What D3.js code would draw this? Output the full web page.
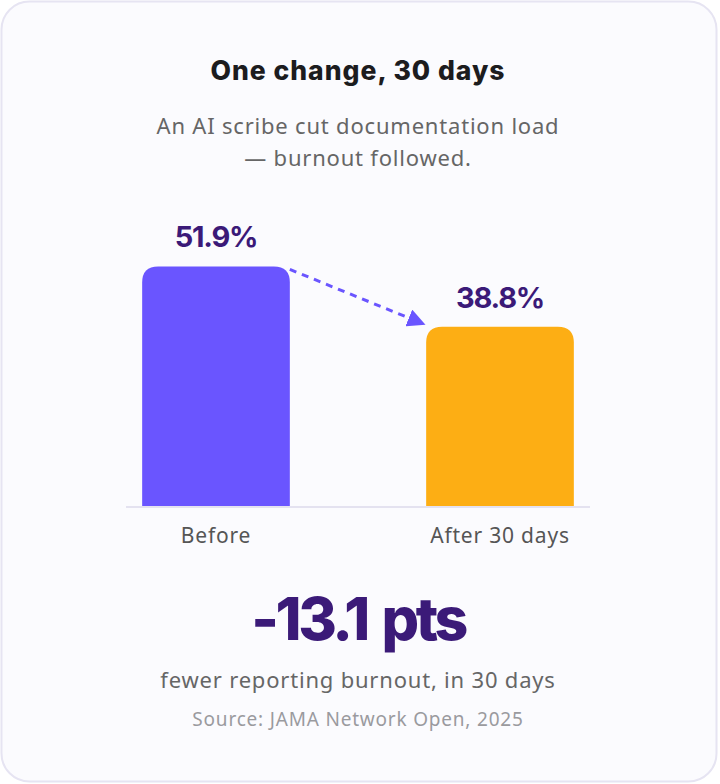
<!DOCTYPE html>
<html><head><meta charset="utf-8">
<script src="https://cdn.jsdelivr.net/npm/d3@7"></script>
<style>html,body{margin:0;padding:0;background:#ffffff;}</style>
</head><body>
<script>
const categories = ["Before", "After 30 days"];
const values = [51.9, 38.8];
const valueLabels = ["51.9%", "38.8%"];
const barColors = ["#6a55ff", "#fdae14"];
const title = "One change, 30 days";
const subtitleLines = ["An AI scribe cut documentation load", "— burnout followed."];
const bigNumber = "-13.1 pts";
const bigCaption = "fewer reporting burnout, in 30 days";
const source = "Source: JAMA Network Open, 2025";

const W = 720, H = 784;
const svg = d3.select("body").append("svg").attr("width", W).attr("height", H);

svg.append("rect").attr("x", 1.5).attr("y", 1.5).attr("width", 715).attr("height", 780)
  .attr("rx", 28).attr("fill", "#fbfbfe").attr("stroke", "#e6e4f2").attr("stroke-width", 2);

const cx = 358;
svg.append("text").attr("x", cx).attr("y", 80).attr("text-anchor", "middle")
  .attr("font-family", "Inter").attr("font-weight", 800).attr("font-size", 26.5)
  .attr("letter-spacing", 1.0).attr("fill", "#1c1c1e").text(title);

svg.selectAll("text.sub").data(subtitleLines).join("text").attr("class", "sub")
  .attr("x", cx).attr("y", (d, i) => 134 + i * 32).attr("text-anchor", "middle")
  .attr("font-family", "Noto Sans").attr("font-size", 22).attr("letter-spacing", 0.8)
  .attr("fill", "#666666").text(d => d);

const x = d3.scaleBand().domain(categories).range([74, 642]).paddingInner(0.48).paddingOuter(0.24);
const y = d3.scaleLinear().domain([0, 60]).range([506, 229]);

const r = 16;
function barPath(x0, w, yt, yb) {
  return `M${x0},${yb}V${yt + r}Q${x0},${yt} ${x0 + r},${yt}H${x0 + w - r}Q${x0 + w},${yt} ${x0 + w},${yt + r}V${yb}Z`;
}
svg.selectAll("path.bar").data(categories).join("path").attr("class", "bar")
  .attr("d", (d, i) => barPath(x(d), x.bandwidth(), y(values[i]), y(0)))
  .attr("fill", (d, i) => barColors[i]);

svg.append("line").attr("x1", 126).attr("x2", 590).attr("y1", y(0) + 1).attr("y2", y(0) + 1)
  .attr("stroke", "#e4e2f0").attr("stroke-width", 2);

svg.selectAll("text.val").data(categories).join("text").attr("class", "val")
  .attr("x", d => x(d) + x.bandwidth() / 2).attr("y", (d, i) => y(values[i]) - 19)
  .attr("text-anchor", "middle").attr("font-family", "Inter").attr("font-weight", 700)
  .attr("font-size", 29).attr("letter-spacing", -1.2).attr("fill", "#3b1a78").text((d, i) => valueLabels[i]);

svg.selectAll("text.cat").data(categories).join("text").attr("class", "cat")
  .attr("x", d => x(d) + x.bandwidth() / 2).attr("y", 543).attr("text-anchor", "middle")
  .attr("font-family", "Noto Sans").attr("font-size", 21).attr("letter-spacing", 0.8)
  .attr("fill", "#555555").text(d => d);

// arrow
const defs = svg.append("defs");
defs.append("marker").attr("id", "ah").attr("viewBox", "0 0 10 10").attr("refX", 8).attr("refY", 5)
  .attr("markerWidth", 6).attr("markerHeight", 6).attr("markerUnits", "strokeWidth").attr("orient", "auto")
  .append("path").attr("d", "M0,0L10,5L0,10Z").attr("fill", "#6a55ff");
const ax1 = x(categories[0]) + x.bandwidth(), ay1 = y(values[0]) + 3;
const ax2 = x(categories[1]) + 2, ay2 = y(values[1]) - 1;
svg.append("line").attr("x1", ax1).attr("y1", ay1).attr("x2", ax2 - 6).attr("y2", ay2 - 2.5)
  .attr("stroke", "#6a55ff").attr("stroke-width", 3).attr("stroke-dasharray", "7,6")
  .attr("marker-end", "url(#ah)");

svg.append("text").attr("x", cx).attr("y", 640).attr("text-anchor", "middle")
  .attr("font-family", "Inter").attr("font-weight", 800).attr("font-size", 59)
  .attr("letter-spacing", -3.4).attr("word-spacing", 5).attr("fill", "#3b1a78").text(bigNumber);

svg.append("text").attr("x", cx).attr("y", 688).attr("text-anchor", "middle")
  .attr("font-family", "Noto Sans").attr("font-size", 22).attr("letter-spacing", 0.8)
  .attr("fill", "#666666").text(bigCaption);

svg.append("text").attr("x", cx).attr("y", 726).attr("text-anchor", "middle")
  .attr("font-family", "Noto Sans").attr("font-size", 19).attr("letter-spacing", 0.8)
  .attr("fill", "#9a9a9e").text(source);
</script>
</body></html>
